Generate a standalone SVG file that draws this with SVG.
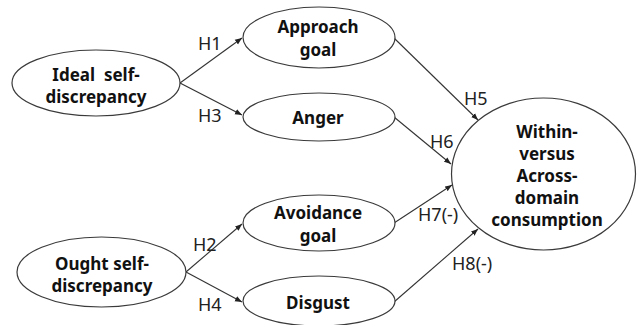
<svg xmlns="http://www.w3.org/2000/svg" width="637" height="325" viewBox="0 0 637 325">
<style>
.node ellipse{fill:#fff;stroke:#3a3a3a;stroke-width:1.2}
.node text{font-family:"Noto Sans","Open Sans",sans-serif;font-weight:bold;font-size:17px;fill:#111;text-anchor:middle}
.edge line{stroke:#333;stroke-width:1.1}
.lbl{font-family:"Noto Sans","Open Sans",sans-serif;font-size:18px;fill:#222}
</style>
<defs>
<marker id="ah" viewBox="0 0 10 10" refX="10" refY="5" markerWidth="7" markerHeight="7" markerUnits="userSpaceOnUse" orient="auto">
<path d="M0,1 L10,5 L0,9 z" fill="#222"/>
</marker>
</defs>
<rect width="637" height="325" fill="#fff"/>
<g id="connectors" class="edge">
<line x1="180" y1="83" x2="242" y2="38" marker-end="url(#ah)"/>
<line x1="180" y1="83" x2="242" y2="115" marker-end="url(#ah)"/>
<line x1="186" y1="272" x2="242" y2="224" marker-end="url(#ah)"/>
<line x1="186" y1="272" x2="242" y2="302" marker-end="url(#ah)"/>
<line x1="394" y1="38" x2="478" y2="120" marker-end="url(#ah)"/>
<line x1="394" y1="117" x2="451" y2="164" marker-end="url(#ah)"/>
<line x1="394" y1="223" x2="452" y2="185" marker-end="url(#ah)"/>
<line x1="394" y1="302" x2="478" y2="229" marker-end="url(#ah)"/>
<text class="lbl" x="198" y="50">H1</text>
<text class="lbl" x="198" y="122">H3</text>
<text class="lbl" x="193" y="251">H2</text>
<text class="lbl" x="198" y="311">H4</text>
<text class="lbl" x="464" y="105">H5</text>
<text class="lbl" x="430" y="148">H6</text>
<text class="lbl" x="418" y="221">H7(-)</text>
<text class="lbl" x="452" y="270">H8(-)</text>
</g>
<g id="ideal" class="node">
<ellipse cx="96" cy="83" rx="84" ry="33"/>
<text x="96" y="81" xml:space="preserve">Ideal  self-</text>
<text x="96" y="103">discrepancy</text>
</g>
<g id="ought" class="node">
<ellipse cx="101.5" cy="272" rx="84.5" ry="35"/>
<text x="102" y="270">Ought self-</text>
<text x="102" y="292">discrepancy</text>
</g>
<g id="approach" class="node">
<ellipse cx="319" cy="37.5" rx="76" ry="30.5"/>
<text x="318" y="33">Approach</text>
<text x="318" y="56">goal</text>
</g>
<g id="anger" class="node">
<ellipse cx="319" cy="117" rx="76" ry="24"/>
<text x="318" y="124">Anger</text>
</g>
<g id="avoidance" class="node">
<ellipse cx="319" cy="223" rx="76" ry="28"/>
<text x="318" y="219">Avoidance</text>
<text x="318" y="242">goal</text>
</g>
<g id="disgust" class="node">
<ellipse cx="319" cy="301" rx="76" ry="25"/>
<text x="318" y="309">Disgust</text>
</g>
<g id="within" class="node">
<ellipse cx="543.5" cy="174" rx="92" ry="76"/>
<text x="547" y="138">Within-</text>
<text x="547" y="160">versus</text>
<text x="547" y="182">Across-</text>
<text x="547" y="204">domain</text>
<text x="547" y="226">consumption</text>
</g>
</svg>
